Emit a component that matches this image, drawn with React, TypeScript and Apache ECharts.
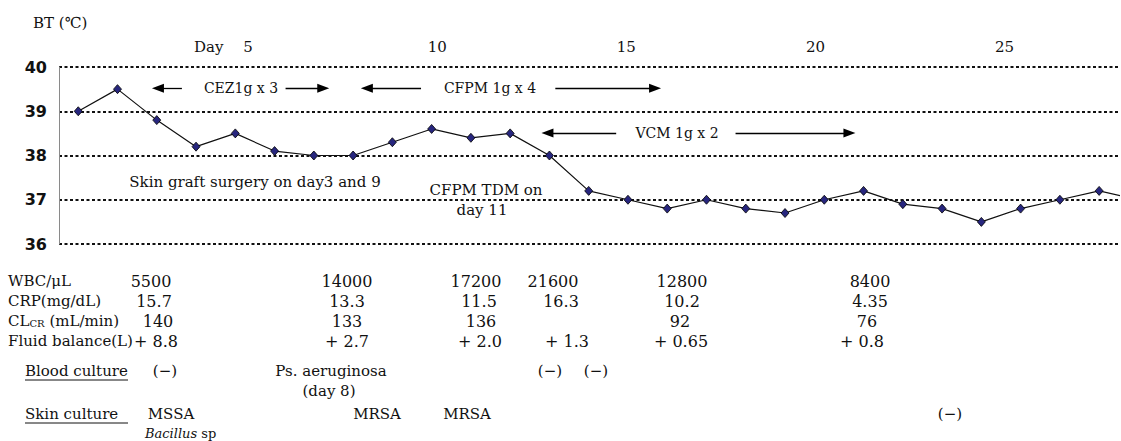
import React, { useEffect, useRef } from 'react';
import * as echarts from 'echarts';

// Body temperature (°C) on days 1..28 (day 28 lies just beyond the right edge)
const temps = [39.0, 39.5, 38.8, 38.2, 38.5, 38.1, 38.0, 38.0, 38.3, 38.6, 38.4, 38.5, 38.0, 37.2,
  37.0, 36.8, 37.0, 36.8, 36.7, 37.0, 37.2, 36.9, 36.8, 36.5, 36.8, 37.0, 37.2, 37.0];

const dayTicks = [5, 10, 15, 20, 25];

// Antibiotic regimens: label, temperature level of the arrows, [leftTip, leftTail, rightTail, rightTip] in days
const regimenNames = ['CEZ1g x 3', 'CFPM 1g x 4', 'VCM 1g x 2'];
const regimenLevels = [39.52, 39.52, 38.51];
const regimenSpans = [
  [2.88, 3.64, 6.28, 7.39],
  [8.2, 9.73, 13.15, 15.84],
  [12.8, 14.7, 17.74, 20.79],
];

const notes = ['Skin graft surgery on day3 and 9', 'CFPM TDM on', 'day 11'];

// Laboratory table
const rowLabels = ['WBC/μL', 'CRP(mg/dL)', 'CLCR (mL/min)', 'Fluid balance(L)'];
const wbc = ['5500', '14000', '17200', '21600', '12800', '8400'];
const crp = ['15.7', '13.3', '11.5', '16.3', '10.2', '4.35'];
const clcr = ['140', '133', '136', '', '92', '76'];
const fluid = ['+ 8.8', '+ 2.7', '+ 2.0', '+ 1.3', '+ 0.65', '+ 0.8'];
const bloodCulture = ['(−)', 'Ps. aeruginosa', '(−)', '(−)'];
const bloodNote = '(day 8)';
const skinCulture = ['MSSA', 'MRSA', 'MRSA', '(−)'];

// ---- layout (pixels) ----
const tableRowY = [281, 301, 321, 341];
const tableColX = [
  [151, 347, 476, 553, 682, 870],
  [154, 347, 479, 561, 682, 870],
  [158, 347, 481, 561, 680, 867],
  [156, 347, 480, 567, 681, 862],
];
const bloodX = [165, 331, 550, 596];
const skinX = [171, 377, 467, 950];

const SERIF = 'DejaVu Serif';
const INK = '#111';

function txt(text: string, x: number, y: number, align: string, size: number, extra: any = {}) {
  return {
    type: 'text',
    x,
    y,
    silent: true,
    style: {
      text,
      fill: INK,
      fontFamily: SERIF,
      fontSize: size,
      align,
      verticalAlign: 'middle',
      textAlign: align,
      textVerticalAlign: 'middle',
      ...extra,
    },
  };
}

function hline(x1: number, x2: number, y: number) {
  return {
    type: 'line',
    silent: true,
    shape: { x1, y1: y, x2, y2: y },
    style: { stroke: INK, lineWidth: 1 },
  };
}

export default function App() {
  const ref = useRef<HTMLDivElement>(null);

  useEffect(() => {
    if (!ref.current) return;
    const chart = echarts.init(ref.current, undefined, { renderer: 'svg' });

    const half = 0.15; // arrow head half-length in days
    const arrowData: any[] = [];
    regimenSpans.forEach((s, i) => {
      const lv = regimenLevels[i];
      arrowData.push([
        { coord: [s[1], lv], symbol: 'none' },
        { coord: [s[0] + half, lv], symbol: 'triangle' },
      ]);
      arrowData.push([
        { coord: [s[2], lv], symbol: 'none' },
        { coord: [s[3] - half, lv], symbol: 'triangle' },
      ]);
    });

    const graphics: any[] = [];
    graphics.push(txt('BT (℃)', 33, 23, 'left', 15));
    graphics.push(txt('Day', 194, 47, 'left', 15));
    graphics.push(txt(regimenNames[0], 241, 88, 'center', 14));
    graphics.push(txt(regimenNames[1], 490, 88, 'center', 14));
    graphics.push(txt(regimenNames[2], 677, 133, 'center', 14));
    graphics.push(txt(notes[0], 255, 182, 'center', 15));
    graphics.push(txt(notes[1], 486, 190, 'center', 15));
    graphics.push(txt(notes[2], 482, 210, 'center', 15));

    // table row labels
    graphics.push(txt(rowLabels[0], 8, tableRowY[0], 'left', 15));
    graphics.push(txt(rowLabels[1], 8, tableRowY[1], 'left', 15));
    graphics.push({
      type: 'text',
      x: 8,
      y: tableRowY[2],
      silent: true,
      style: {
        text: '{n|CL}{s|CR}{n| (mL/min)}',
        fill: INK,
        fontFamily: SERIF,
        fontSize: 15,
        align: 'left',
        verticalAlign: 'middle',
        textAlign: 'left',
        textVerticalAlign: 'middle',
        rich: {
          n: { fontFamily: SERIF, fontSize: 15, fill: INK, verticalAlign: 'bottom' },
          s: { fontFamily: SERIF, fontSize: 10, fill: INK, verticalAlign: 'bottom' },
        },
      },
    });
    graphics.push(txt(rowLabels[3], 8, tableRowY[3], 'left', 15));

    [wbc, crp, clcr, fluid].forEach((row, r) => {
      row.forEach((v, c) => {
        if (v) graphics.push(txt(v, tableColX[r][c], tableRowY[r], 'center', 16));
      });
    });

    // cultures
    graphics.push(txt('Blood culture', 25, 371, 'left', 15));
    graphics.push(hline(25, 128, 380));
    bloodCulture.forEach((v, i) => graphics.push(txt(v, bloodX[i], 371, 'center', 15)));
    graphics.push(txt(bloodNote, 329, 391, 'center', 15));

    graphics.push(txt('Skin culture ', 25, 414, 'left', 15));
    graphics.push(hline(25, 128, 423));
    skinCulture.forEach((v, i) => graphics.push(txt(v, skinX[i], 414, 'center', 15)));
    graphics.push({
      type: 'text',
      x: 145,
      y: 433,
      silent: true,
      style: {
        text: '{i|Bacillus}{n| sp}',
        fill: INK,
        fontFamily: SERIF,
        fontSize: 13,
        align: 'left',
        verticalAlign: 'middle',
        textAlign: 'left',
        textVerticalAlign: 'middle',
        rich: {
          i: { fontFamily: SERIF, fontSize: 13, fontStyle: 'italic', fill: INK, lineHeight: 14 },
          n: { fontFamily: SERIF, fontSize: 13, fill: INK, lineHeight: 14 },
        },
      },
    });

    const option: any = {
      animation: false,
      backgroundColor: '#ffffff',
      grid: { left: 59, right: 0, top: 67, bottom: 197, containLabel: false },
      xAxis: [
        { type: 'value', position: 'bottom', min: 0.51, max: 27.48, show: false },
        {
          type: 'value',
          position: 'top',
          min: 0,
          max: 28,
          interval: 5,
          axisLine: { show: false },
          axisTick: { show: false },
          splitLine: { show: false },
          axisLabel: {
            margin: 13,
            fontFamily: SERIF,
            fontSize: 15,
            color: INK,
            formatter: (v: number) => (dayTicks.indexOf(v) >= 0 ? String(v) : ''),
          },
        },
      ],
      yAxis: {
        type: 'value',
        min: 36,
        max: 40,
        interval: 1,
        axisLine: { show: true, lineStyle: { color: '#8a8a8a', width: 1 } },
        axisTick: { show: false },
        axisLabel: {
          margin: 12,
          fontFamily: 'DejaVu Sans',
          fontWeight: 'bold',
          fontSize: 16,
          color: INK,
        },
        splitLine: { show: true, lineStyle: { color: INK, width: 2, type: [3, 2.5] } },
      },
      series: [
        {
          type: 'line',
          xAxisIndex: 0,
          data: temps.map((t, i) => [i + 1, t]),
          symbol: 'diamond',
          symbolSize: [8, 9],
          showAllSymbol: true,
          clip: true,
          lineStyle: { color: INK, width: 1.2 },
          itemStyle: { color: '#27267e', borderColor: '#000', borderWidth: 0.8 },
          emphasis: { disabled: true },
          z: 3,
          markLine: {
            silent: true,
            symbol: ['none', 'triangle'],
            symbolSize: [9, 12],
            label: { show: false },
            emphasis: { disabled: true },
            lineStyle: { color: '#000', width: 1.3, type: 'solid' },
            data: arrowData,
          },
        },
      ],
      graphic: { elements: graphics },
    };

    chart.setOption(option);
    return () => chart.dispose();
  }, []);

  return (
    <div
      ref={ref}
      style={{ position: 'absolute', left: 0, top: 0, width: 1121, height: 441, background: '#fff' }}
    />
  );
}
